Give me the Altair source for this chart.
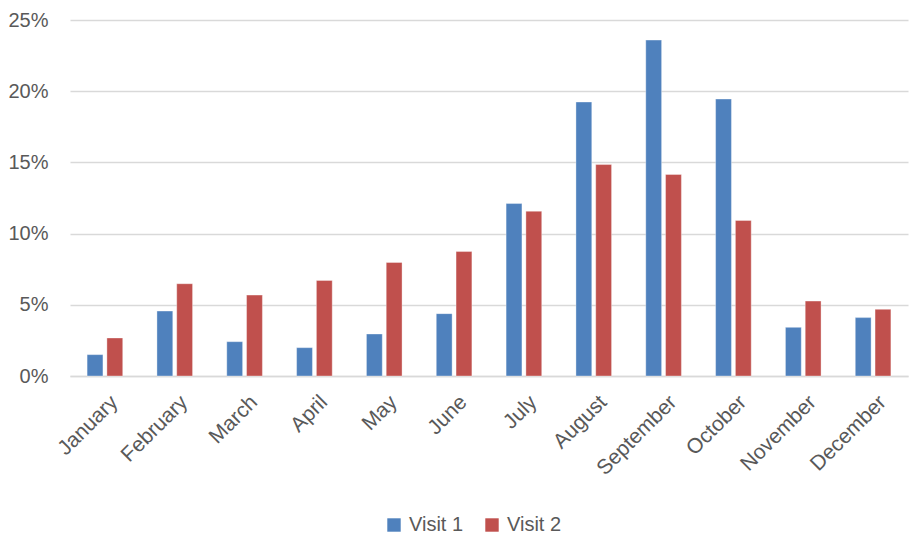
import altair as alt
import pandas as pd

months = ["January", "February", "March", "April", "May", "June",
          "July", "August", "September", "October", "November", "December"]
visit1 = [1.50, 4.56, 2.41, 1.99, 2.95, 4.38, 12.11, 19.24, 23.59, 19.45, 3.42, 4.10]
visit2 = [2.67, 6.48, 5.68, 6.71, 7.97, 8.74, 11.57, 14.85, 14.15, 10.92, 5.26, 4.68]
series = ["Visit 1", "Visit 2"]
colors = ["#4F81BD", "#C0504D"]
y_ticks = [0, 5, 10, 15, 20, 25]

rows = []
for m, a, b in zip(months, visit1, visit2):
    rows.append({"month": m, "visit": series[0], "share": a})
    rows.append({"month": m, "visit": series[1], "share": b})
df = pd.DataFrame(rows)

FONT = "Liberation Sans"
LABEL = "#595959"
GRID = "#D9D9D9"

chart = alt.Chart(df).mark_bar(
    stroke="#FFFFFF", strokeOpacity=0.35, strokeWidth=1
).encode(
    x=alt.X("month:N", sort=months, title=None,
            scale=alt.Scale(paddingInner=0.49, paddingOuter=0.245),
            axis=alt.Axis(labelAngle=-45, labelAlign="right", labelBaseline="top",
                          labelFontSize=21, labelColor=LABEL, labelFont=FONT,
                          labelPadding=15, ticks=False, domainColor=GRID,
                          domainWidth=1.3, labelOffset=2)),
    xOffset=alt.XOffset("visit:N", sort=series,
                        scale=alt.Scale(paddingInner=0.2)),
    y=alt.Y("share:Q", title=None,
            scale=alt.Scale(domain=[0, 25], nice=False),
            axis=alt.Axis(values=y_ticks, labelExpr="datum.value + '%'",
                          labelFontSize=20, labelColor=LABEL, labelFont=FONT,
                          labelPadding=22, ticks=False, domain=False,
                          gridColor=GRID, gridWidth=1.3)),
    color=alt.Color("visit:N", sort=series,
                    scale=alt.Scale(domain=series, range=colors),
                    legend=alt.Legend(title=None, orient="none", direction="horizontal",
                                      legendX=314, legendY=495,
                                      symbolType="square", symbolSize=180,
                                      symbolStrokeWidth=0, labelFontSize=20,
                                      labelColor=LABEL, labelFont=FONT,
                                      columnPadding=18, labelOffset=5)),
).properties(
    width=838, height=356, background="white",
    autosize=alt.AutoSizeParams(type="none"),
    padding={"left": 70, "top": 20, "right": 3, "bottom": 162},
).configure_view(strokeWidth=0)

chart.save("out.html", embed_options={"renderer": "svg", "actions": False})
